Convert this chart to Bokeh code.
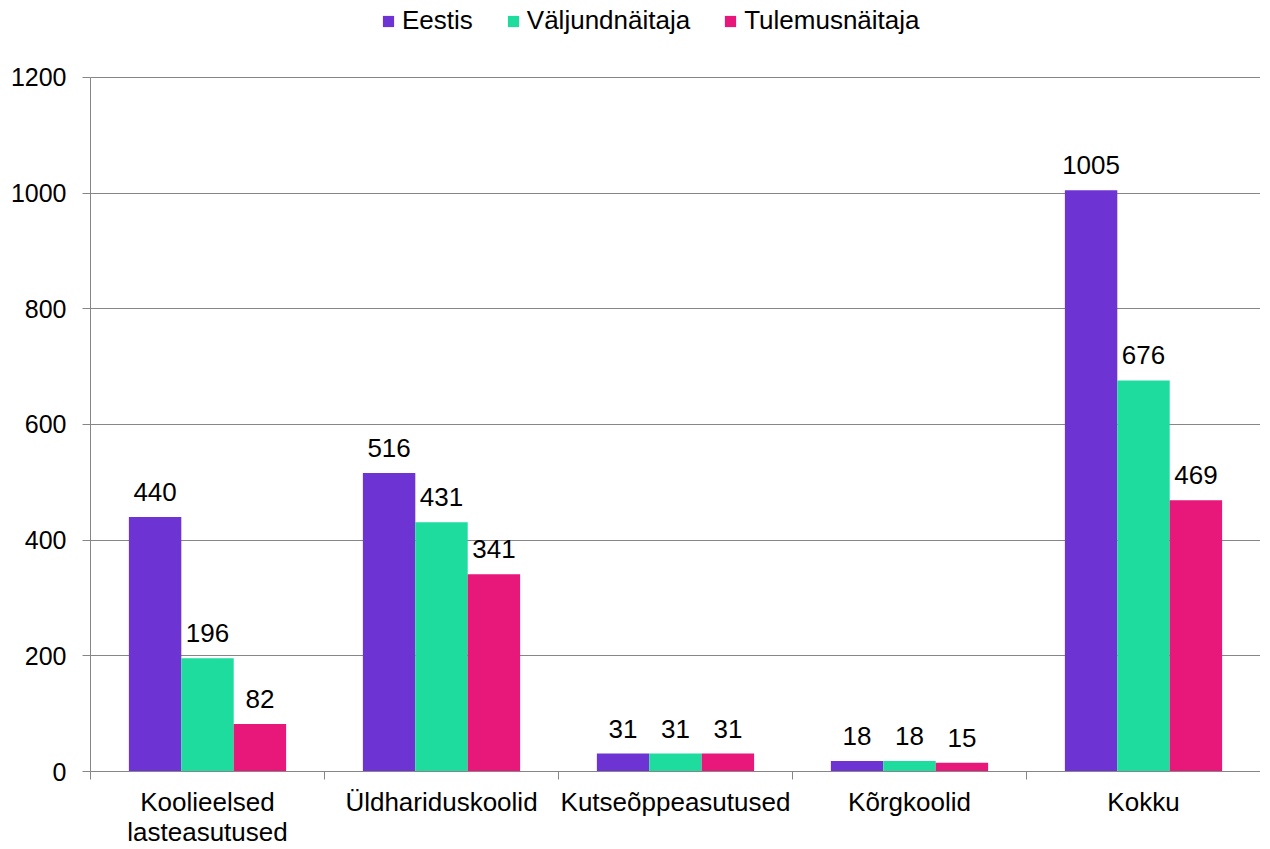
from bokeh.plotting import figure
from bokeh.models import (ColumnDataSource, Range1d, FixedTicker, Legend, LegendItem, LabelSet)
from bokeh.core.properties import value
from bokeh.embed import file_html
from bokeh.resources import INLINE

categories = ["Koolieelsed\nlasteasutused", "Üldhariduskoolid", "Kutseõppeasutused", "Kõrgkoolid", "Kokku"]
series_names = ["Eestis", "Väljundnäitaja", "Tulemusnäitaja"]
eestis = [440, 516, 31, 18, 1005]
valjund = [196, 431, 31, 18, 676]
tulemus = [82, 341, 31, 15, 469]
colors = ["#6D33D3", "#1EDC9E", "#E8177A"]
y_ticks = [0, 200, 400, 600, 800, 1000, 1200]

FONT = "Liberation Sans"
FS = "26px"

# frame spans the full height; upper part of the y range holds the legend
FRAME_H = 772
Y_END = 1200 * FRAME_H / (FRAME_H - 77)

p = figure(width=1260, height=849, output_backend="svg", toolbar_location=None,
           x_range=Range1d(0, len(categories)), y_range=Range1d(0, Y_END),
           min_border_left=90, min_border_right=0, min_border_top=0, min_border_bottom=60)
p.outline_line_color = None
p.background_fill_color = "white"
p.border_fill_color = "white"

bw = 0.224
offsets = [-bw, 0.0, bw]
renderers = []
for vals, off, col in zip([eestis, valjund, tulemus], offsets, colors):
    src = ColumnDataSource(dict(x=[i + 0.5 + off for i in range(len(categories))],
                                top=vals, lab=[str(v) for v in vals]))
    r = p.vbar(x="x", top="top", width=bw, source=src, fill_color=col, line_color=None)
    renderers.append(r)
    p.add_layout(LabelSet(x="x", y="top", text="lab", source=src, text_align="center",
                          text_baseline="bottom", y_offset=16, text_font=value(FONT),
                          text_font_size=value(FS), text_color="#000000"))

# x axis
xa = p.xaxis[0]
xa.ticker = FixedTicker(ticks=[i + 0.5 for i in range(len(categories))],
                        minor_ticks=list(range(len(categories) + 1)))
xa.major_label_overrides = {i + 0.5: c for i, c in enumerate(categories)}
xa.major_tick_out = 0
xa.major_tick_in = 0
xa.minor_tick_out = 8
xa.minor_tick_in = 0
xa.minor_tick_line_color = "#868686"
xa.axis_line_color = "#868686"
xa.major_label_text_font = FONT
xa.major_label_text_font_size = FS
xa.major_label_text_color = "#000000"
xa.major_label_text_line_height = 1.0
xa.major_label_standoff = 7
p.xgrid.grid_line_color = None

ya = p.yaxis[0]
ya.ticker = FixedTicker(ticks=y_ticks, minor_ticks=[])
ya.bounds = (0, 1200)
ya.major_tick_out = 8
ya.major_tick_in = 0
ya.major_tick_line_color = "#868686"
ya.axis_line_color = "#868686"
ya.major_label_text_font = FONT
ya.major_label_text_font_size = "25px"
ya.major_label_text_color = "#000000"
ya.major_label_standoff = 16
p.ygrid.ticker = FixedTicker(ticks=y_ticks)
p.ygrid.grid_line_color = "#868686"

legend = Legend(items=[LegendItem(label=n, renderers=[r]) for n, r in zip(series_names, renderers)],
                orientation="horizontal", location=(291, FRAME_H - 37),
                label_text_font=FONT, label_text_font_size="26px", label_text_color="#000000",
                glyph_width=14, glyph_height=14, label_standoff=7, spacing=33,
                border_line_color=None, background_fill_alpha=0, margin=0, padding=0)
p.add_layout(legend, "center")

open("out.html", "w").write(file_html(p, INLINE))
